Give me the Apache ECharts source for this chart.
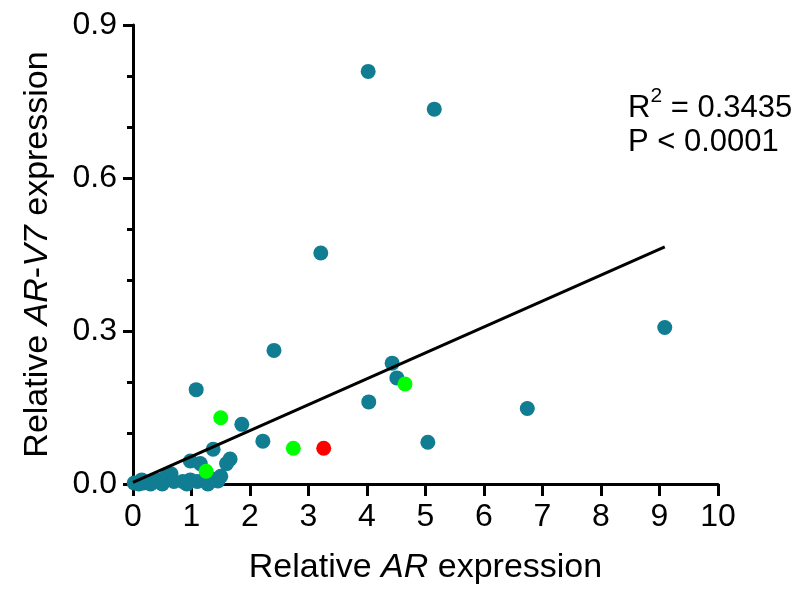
<!DOCTYPE html>
<html>
<head>
<meta charset="utf-8">
<script src="https://cdn.jsdelivr.net/npm/echarts@6/dist/echarts.min.js"></script>
<style>
  html, body { margin: 0; padding: 0; background: #fff; }
  #chart { width: 798px; height: 590px; }
</style>
</head>
<body>
<div id="chart"></div>
<script>
// teal samples
const tealX = [4.02, 5.15, 3.21, 2.41, 9.09, 1.08, 4.43, 4.51, 4.03, 6.74, 5.04, 1.86, 2.22,
  0.02, 0.1, 0.18, 0.26, 0.33, 0.4, 0.47, 0.55, 0.6, 0.65, 0.5, 0.7, 0.3, 0.15,
  0.85, 0.98, 1.1, 1.22, 1.35, 1.45, 1.5, 1.28, 0.92,
  0.98, 1.15, 1.37, 1.6, 1.66];
const tealY = [0.809, 0.735, 0.453, 0.262, 0.307, 0.185, 0.237, 0.208, 0.161, 0.148, 0.082, 0.117, 0.084,
  0.002, 0.0, 0.002, 0.003, 0.004, 0.006, 0.008, 0.012, 0.018, 0.02, 0.0, 0.005, 0.0, 0.008,
  0.005, 0.008, 0.005, 0.008, 0.01, 0.006, 0.015, 0.0, 0.0,
  0.045, 0.04, 0.068, 0.04, 0.049];
// green samples
const greenX = [1.5, 4.65, 2.74, 1.25];
const greenY = [0.130, 0.196, 0.070, 0.025];
// red sample
const redX = [3.26];
const redY = [0.070];
// regression line ends
const fitX = [0.0, 9.09];
const fitY = [0.003, 0.465];

const xTicks = [0, 1, 2, 3, 4, 5, 6, 7, 8, 9, 10];
const yTicks = [0, 0.3, 0.6, 0.9];

const pairs = (xs, ys) => xs.map((x, i) => [x, ys[i]]);
const font = 'Liberation Sans, Arial, sans-serif';

const chart = echarts.init(document.getElementById('chart'));

chart.setOption({
  animation: false,
  grid: { left: 133, right: 80, top: 25, bottom: 102 },
  xAxis: {
    type: 'value',
    min: xTicks[0],
    max: xTicks[xTicks.length - 1],
    interval: 1,
    name: '{n|Relative }{i|AR}{n| expression}',
    nameLocation: 'middle',
    nameGap: 67,
    nameTextStyle: {
      rich: {
        n: { fontFamily: font, fontSize: 34, color: '#000' },
        i: { fontFamily: font, fontSize: 34, color: '#000', fontStyle: 'italic' }
      }
    },
    axisLine: { show: true, onZero: false, lineStyle: { color: '#000', width: 3 } },
    axisTick: { show: true, length: 12, lineStyle: { color: '#000', width: 3 } },
    axisLabel: { margin: 17, fontFamily: font, fontSize: 32, color: '#000' },
    splitLine: { show: false }
  },
  yAxis: {
    type: 'value',
    min: yTicks[0],
    max: yTicks[yTicks.length - 1],
    interval: 0.3,
    name: '{n|Relative }{i|AR}{n|-}{i|V7}{n| expression}',
    nameLocation: 'middle',
    nameGap: 78,
    nameRotate: 90,
    nameTextStyle: {
      rich: {
        n: { fontFamily: font, fontSize: 34, color: '#000' },
        i: { fontFamily: font, fontSize: 34, color: '#000', fontStyle: 'italic' }
      }
    },
    axisLine: { show: true, onZero: false, lineStyle: { color: '#000', width: 3 } },
    axisTick: { show: true, length: 10, lineStyle: { color: '#000', width: 3 } },
    minorTick: { show: true, splitNumber: 3, length: 6, lineStyle: { color: '#000', width: 3 } },
    axisLabel: {
      margin: 16, fontFamily: font, fontSize: 32, color: '#000',
      formatter: v => v.toFixed(1)
    },
    splitLine: { show: false }
  },
  graphic: [
    {
      type: 'text',
      left: 628,
      top: 86,
      style: {
        text: '{a|R}{s|2}{a| = 0.3435}',
        rich: {
          a: { fontFamily: font, fontSize: 31, color: '#000', lineHeight: 38, verticalAlign: 'bottom' },
          s: { fontFamily: font, fontSize: 21, color: '#000', verticalAlign: 'top', lineHeight: 22 }
        }
      }
    },
    {
      type: 'text',
      left: 628,
      top: 127,
      style: { text: 'P < 0.0001', fontFamily: font, fontSize: 31, fill: '#000' }
    }
  ],
  series: [
    {
      type: 'scatter',
      data: pairs(tealX, tealY),
      symbolSize: 15,
      clip: false,
      itemStyle: { color: '#117d92', opacity: 1 },
      z: 2
    },
    {
      type: 'scatter',
      data: pairs(greenX, greenY),
      symbolSize: 15,
      clip: false,
      itemStyle: { color: '#00ff00', opacity: 1 },
      z: 3
    },
    {
      type: 'scatter',
      data: pairs(redX, redY),
      symbolSize: 15,
      clip: false,
      itemStyle: { color: '#ff0000', opacity: 1 },
      z: 3
    },
    {
      type: 'line',
      data: pairs(fitX, fitY),
      showSymbol: false,
      lineStyle: { color: '#000', width: 3 },
      z: 4
    }
  ]
});
</script>
</body>
</html>
